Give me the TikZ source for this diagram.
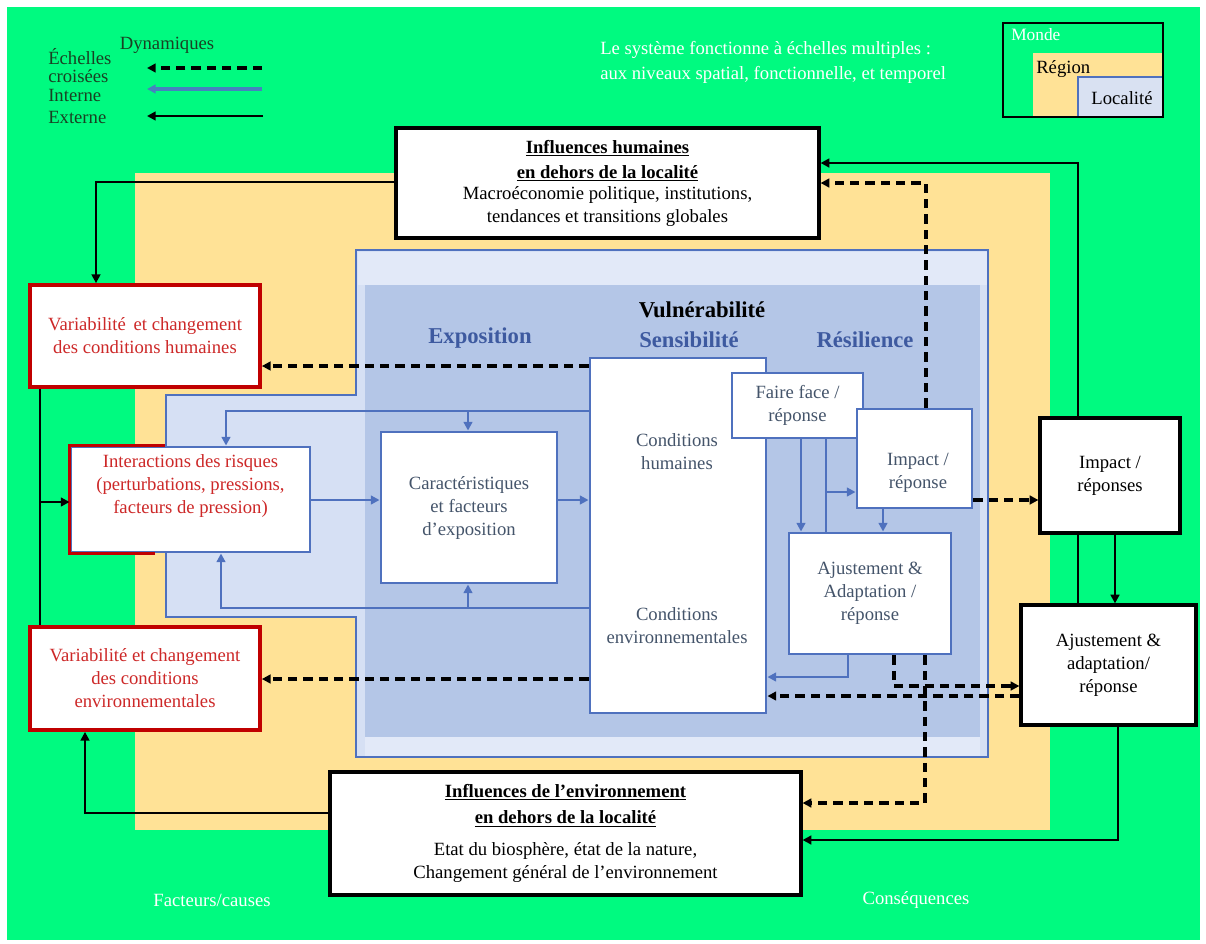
\documentclass[tikz,border=0pt]{standalone}
\usepackage{fontspec}
\setmainfont{Liberation Serif}
\usetikzlibrary{arrows.meta,calc}
\definecolor{bggreen}{RGB}{0,250,128}
\definecolor{bgyellow}{RGB}{255,226,150}
\definecolor{loc}{RGB}{214,224,244}
\definecolor{locband}{RGB}{226,233,248}
\definecolor{vuln}{RGB}{180,198,231}
\definecolor{bline}{RGB}{79,113,190}
\definecolor{btext}{RGB}{62,90,160}
\definecolor{itext}{RGB}{68,84,106}
\definecolor{redb}{RGB}{192,0,0}
\definecolor{redt}{RGB}{205,40,40}
\definecolor{legt}{RGB}{25,65,35}
\definecolor{legblue}{RGB}{70,130,190}
\definecolor{locfill}{RGB}{217,225,242}
\begin{document}
\begin{tikzpicture}[x=0.75pt,y=-0.75pt,
  every node/.style={font=\fontsize{14pt}{17.25pt}\selectfont},
  tip/.style={-{Triangle[length=6.5pt,width=6.5pt]}},
  ext/.style={draw=black,line width=2.2pt,tip},
  extl/.style={draw=black,line width=2.2pt},
  xsc/.style={draw=black,line width=2.4pt,dash pattern=on 7pt off 4.5pt,tip},
  int/.style={draw=bline,line width=2.2pt,tip},
  intl/.style={draw=bline,line width=2.2pt},
  outbox/.style={draw=black,line width=2.4pt,fill=white,inner sep=0pt,align=center},
  redbox/.style={draw=redb,line width=2.8pt,fill=white,inner sep=0pt,align=center,text=redt},
  inbox/.style={draw=bline,line width=2.2pt,fill=white,inner sep=0pt,align=center,text=itext},
  head/.style={font=\fontsize{17pt}{20pt}\selectfont\bfseries,text=btext},
  wtext/.style={text=white,inner sep=0pt},
  legtext/.style={text=legt,inner sep=0pt,anchor=west},
]
\useasboundingbox (0,0) rectangle (1206,943);
\fill[white] (0,0) rectangle (1206,943);
\fill[bggreen] (7,7) rectangle (1200,940);
\fill[bgyellow] (135,173) rectangle (1050,830);
\filldraw[fill=loc,draw=bline,line width=1.8pt] (356,250) -- (988,250) -- (988,757) -- (356,757) -- (356,617) -- (166,617) -- (166,395) -- (356,395) -- cycle;
\fill[locband] (357.5,251.5) rectangle (986.5,285);
\fill[locband] (365,737) rectangle (980,755.5);
\fill[vuln] (365,285) rectangle (980,737);

% legend top left
\node[text=legt,inner sep=0pt] (dyn) at (167,45) {Dynamiques};
\node[legtext] (ech) at (48,57) {Échelles};
\node[legtext] (cro) at (48,76) {croisées};
\node[legtext] (inte) at (48,95) {Interne};
\node[legtext] (exte) at (48,117) {Externe};
\coordinate (l1s) at (262,68); \coordinate (l1e) at (147,68);
\coordinate (l2s) at (262,89); \coordinate (l2e) at (147,89);
\coordinate (l3s) at (263,116); \coordinate (l3e) at (147,116);
\draw[xsc] (l1s) -- (l1e);
\draw[draw=legblue,line width=2.4pt,tip] (l2s) -- (l2e);
\draw[ext] (l3s) -- (l3e);

% white texts
\node[wtext,anchor=west] (sys1) at (600,50) {Le système fonctionne à échelles multiples :};
\node[wtext,anchor=west] (sys2) at (600,75) {aux niveaux spatial, fonctionnelle, et temporel};
\node[wtext] (fac) at (212,900) {Facteurs/causes};
\node[wtext] (cons) at (916,900) {Conséquences};

% scale legend top right
\fill[bggreen] (1003,23) rectangle (1163,117);
\fill[bgyellow] (1033,53) rectangle (1163,117);
\filldraw[fill=locfill,draw=bline,line width=1.8pt] (1078,77) rectangle (1163,117);
\draw[black,line width=1.6pt] (1003,23) rectangle (1163,117);
\node[wtext,anchor=west,font=\fontsize{13pt}{15pt}\selectfont] (monde) at (1011,35) {Monde};
\node[inner sep=0pt,anchor=west] (region) at (1036,69) {Région};
\node[inner sep=0pt] (localite) at (1122,98) {Localité};

% headings
\node[font=\fontsize{17pt}{20pt}\selectfont\bfseries,inner sep=0pt] (vul) at (702,310) {Vulnérabilité};
\node[head,inner sep=0pt] (expo) at (480,338) {Exposition};
\node[head,inner sep=0pt] (sens) at (689,340) {Sensibilité};
\node[head,inner sep=0pt] (resi) at (865,340) {Résilience};

% boxes
\node[outbox,minimum width=317.25pt,minimum height=82.5pt] (ih) at (607.5,183)
  {\textbf{\underline{Influences humaines}}\\[1.5pt]\textbf{\underline{en dehors de la localité}}\\[-1.5pt]Macroéconomie politique, institutions,\\tendances et transitions globales};
\node[outbox,minimum width=353.25pt,minimum height=92.25pt] (ie) at (565.5,833.5)
  {\textbf{\underline{Influences de l’environnement}}\\[2.75pt]\textbf{\underline{en dehors de la localité}}\\[6.75pt]Etat du biosphère, état de la nature,\\Changement général de l’environnement};
\node[redbox,minimum width=172.5pt,minimum height=76.5pt] (vh) at (145,336)
  {Variabilité\, et changement\\des conditions humaines};
\node[redbox,minimum width=172.5pt,minimum height=77.25pt] (ve) at (145,678.5)
  {Variabilité et changement\\des conditions\\environnementales};
\node[inbox,minimum width=179.25pt,minimum height=78.75pt] (ir) at (190.5,499.5) {};
\draw[draw=redb,line width=2.8pt] ($(ir.north west)+(95,0)$) -- (ir.north west) -- (ir.south west) -- ($(ir.south west)+(85,0)$);
\node[text=redt,align=center,inner sep=0pt] (irt) at (190.5,486.5)
  {Interactions des risques\\(perturbations, pressions,\\facteurs de pression)};
\node[inbox,minimum width=132pt,minimum height=113.25pt] (ca) at (469,507.5)
  {Caractéristiques\\et facteurs\\d’exposition};
\node[inbox,minimum width=132pt,minimum height=266.25pt] (co) at (678,535.5) {};
\node[text=itext,align=center,inner sep=0pt] (cht) at (677,452) {Conditions\\humaines};
\node[text=itext,align=center,inner sep=0pt] (cet) at (677,626) {Conditions\\environnementales};
\node[inbox,minimum width=98.25pt,minimum height=48.75pt] (ff) at (797.5,405.5)
  {Faire face /\\réponse};
\node[inbox,minimum width=86.25pt,minimum height=74.25pt] (im) at (914.5,458.5) {};
\node[text=itext,align=center,inner sep=0pt] (imt) at (918,473) {Impact /\\réponse};
\node[inbox,minimum width=121.5pt,minimum height=90.75pt] (aa) at (870,593.5)
  {Ajustement \&\\Adaptation /\\réponse};
\node[outbox,minimum width=105pt,minimum height=86.25pt] (ir2) at (1110,475.5)
  {Impact /\\réponses};
\node[outbox,minimum width=131.25pt,minimum height=90pt] (aj) at (1108.5,665)
  {Ajustement \&\\adaptation/\\réponse};

% external connectors
\draw[ext] (ih.west |- 0,182) -| (vh.north -| 96,0);
\draw[ext] (ir2.north -| 1078,0) |- (ih.east |- 0,163);
\draw[extl] (ir2.south -| 1078,0) -- (aj.north -| 1078,0);
\draw[ext] (ir2.south -| 1115,0) -- (aj.north -| 1115,0);
\draw[ext] (aj.south -| 1118,0) |- (ie.east |- 0,840);
\draw[ext] (ie.west |- 0,813) -| (ve.south -| 85,0);
\draw[extl] (vh.south -| 40,0) -- (ve.north -| 40,0);
\coordinate (j1) at (40,502);
\draw[ext] (j1) -- (ir.west |- j1);

% cross-scale connectors
\draw[xsc] (co.west |- 0,366) -- (vh.east |- 0,366);
\draw[xsc] (co.west |- 0,679) -- (ve.east |- 0,679);
\draw[xsc] (im.north -| 926,0) |- (ih.east |- 0,183);
\draw[xsc] (im.east |- 0,500) -- (ir2.west |- 0,500);
\draw[xsc] (aa.south -| 925,0) |- (ie.east |- 0,803);
\draw[xsc] (aa.south -| 894,0) |- (aj.west |- 0,686);
\draw[xsc] (aj.west |- 0,696) -- (co.east |- 0,696);

% internal connectors
\draw[int] (ir.east |- 0,500) -- (ca.west |- 0,500);
\draw[int] (ca.east |- 0,500) -- (co.west |- 0,500);
\draw[int] (co.west |- 0,411) -| (ir.north -| 226,0);
\coordinate (tq) at (468,411);
\draw[int] (tq) -- (ca.north -| tq);
\draw[int] (co.west |- 0,608) -| (ir.south -| 221,0);
\coordinate (bq) at (468,608);
\draw[int] (bq) -- (ca.south -| bq);
\draw[int] (ff.south -| 801,0) -- (aa.north -| 801,0);
\draw[intl] (ff.south -| 826,0) -- (aa.north -| 826,0);
\coordinate (fq) at (826,492);
\draw[int] (fq) -- (im.west |- fq);
\draw[int] (im.south -| 883,0) -- (aa.north -| 883,0);
\draw[int] (aa.south -| 848,0) |- (co.east |- 0,677);
\end{tikzpicture}
\end{document}
